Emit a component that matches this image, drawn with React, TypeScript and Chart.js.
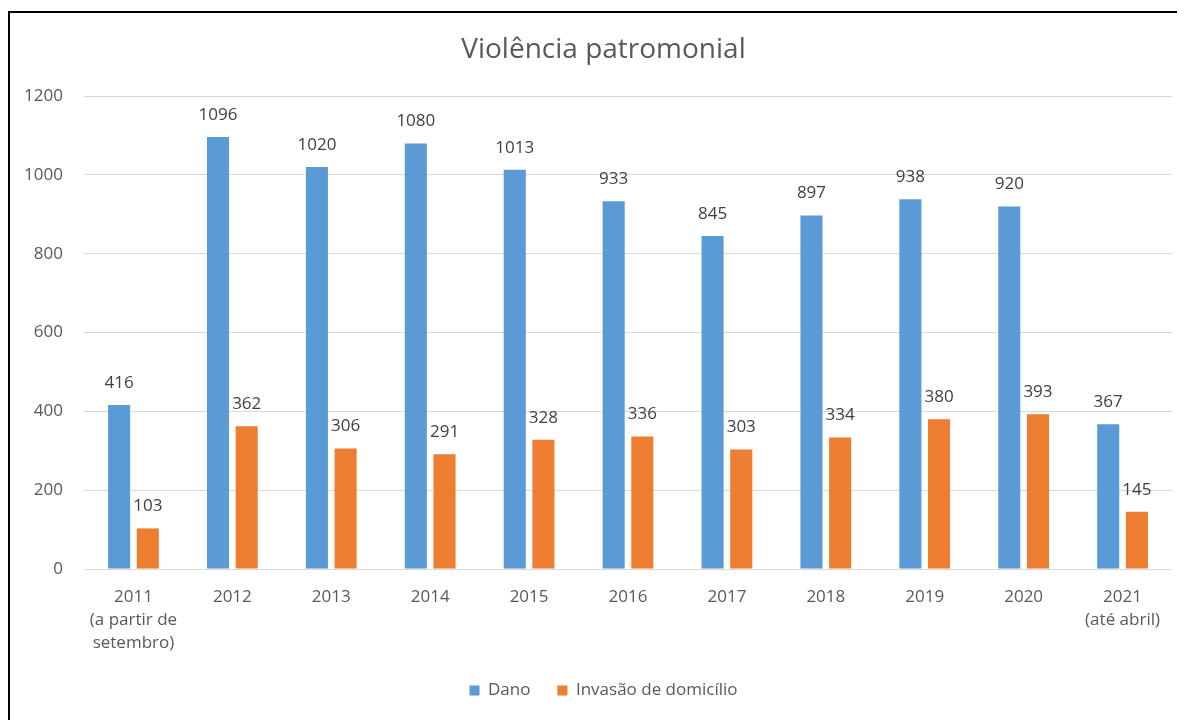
import React, { useEffect, useRef } from "react";
import { Chart, registerables } from "chart.js";

Chart.register(...registerables);

const categories: (string | string[])[] = [
  ["2011", "(a partir de", "setembro)"],
  "2012",
  "2013",
  "2014",
  "2015",
  "2016",
  "2017",
  "2018",
  "2019",
  "2020",
  ["2021", "(até abril)"],
];
const dano = [416, 1096, 1020, 1080, 1013, 933, 845, 897, 938, 920, 367];
const invasao = [103, 362, 306, 291, 328, 336, 303, 334, 380, 393, 145];
const seriesNames = ["Dano", "Invasão de domicílio"];
const titleText = "Violência patromonial";

const FONT = "'Open Sans', 'Noto Sans', sans-serif";

const valueLabels = {
  id: "valueLabels",
  afterDatasetsDraw(chart: any) {
    const ctx = chart.ctx;
    ctx.save();
    ctx.font = `17px ${FONT}`;
    ctx.fillStyle = "#404040";
    ctx.textAlign = "center";
    ctx.textBaseline = "middle";
    chart.data.datasets.forEach((ds: any, i: number) => {
      const meta = chart.getDatasetMeta(i);
      meta.data.forEach((el: any, j: number) => {
        ctx.fillText(String(ds.data[j]), el.x, el.y - 22);
      });
    });
    ctx.restore();
  },
};

export default function App() {
  const ref = useRef<HTMLCanvasElement | null>(null);
  useEffect(() => {
    document.body.style.overflow = "hidden";
    const chart = new Chart(ref.current!, {
      type: "bar",
      data: {
        labels: categories,
        datasets: [
          {
            label: seriesNames[0],
            data: dano,
            backgroundColor: "#5B9BD5",
            categoryPercentage: 0.58,
            barPercentage: 0.77,
          },
          {
            label: seriesNames[1],
            data: invasao,
            backgroundColor: "#ED7D31",
            categoryPercentage: 0.58,
            barPercentage: 0.77,
          },
        ],
      },
      options: {
        responsive: false,
        animation: false,
        layout: { padding: { left: 0, right: 0, top: 0, bottom: 11 } },
        plugins: {
          title: {
            display: true,
            text: titleText,
            color: "#595959",
            font: { family: FONT, size: 28, weight: "normal" },
            padding: { top: 20, bottom: 29.5 },
          },
          legend: {
            position: "bottom",
            labels: {
              boxWidth: 10,
              boxHeight: 10,
              padding: 27,
              color: "#595959",
              font: { family: FONT, size: 17 },
            },
          },
          tooltip: { enabled: false },
        },
        scales: {
          x: {
            grid: { display: false },
            border: { display: false },
            ticks: {
              color: "#595959",
              font: { family: FONT, size: 17, lineHeight: 1.38 },
              padding: 8,
              maxRotation: 0,
              autoSkip: false,
            },
            afterFit: (s: any) => {
              s.height = 86;
            },
          },
          y: {
            min: 0,
            max: 1200,
            grid: { color: "#D9D9D9", drawTicks: false, lineWidth: 1 },
            border: { display: false },
            ticks: {
              stepSize: 200,
              color: "#595959",
              font: { family: FONT, size: 17 },
              padding: 21,
              callback: (v: any) => String(v),
            },
            afterFit: (s: any) => {
              s.width = 74;
            },
          },
          yRightSpace: {
            type: "linear",
            position: "right",
            min: 0,
            max: 1200,
            grid: { display: false },
            border: { display: false },
            ticks: { display: false },
            afterFit: (s: any) => {
              s.width = 25;
            },
          },
        },
      },
      plugins: [valueLabels],
    });
    return () => chart.destroy();
  }, []);
  return (
    <div style={{ paddingTop: 3 }}>
      <div
        style={{
          borderTop: "2px solid #000",
          borderLeft: "2px solid #000",
          width: 1189,
          height: 707,
        }}
      >
        <canvas ref={ref} width={1187} height={707} style={{ display: "block" }} />
      </div>
    </div>
  );
}
